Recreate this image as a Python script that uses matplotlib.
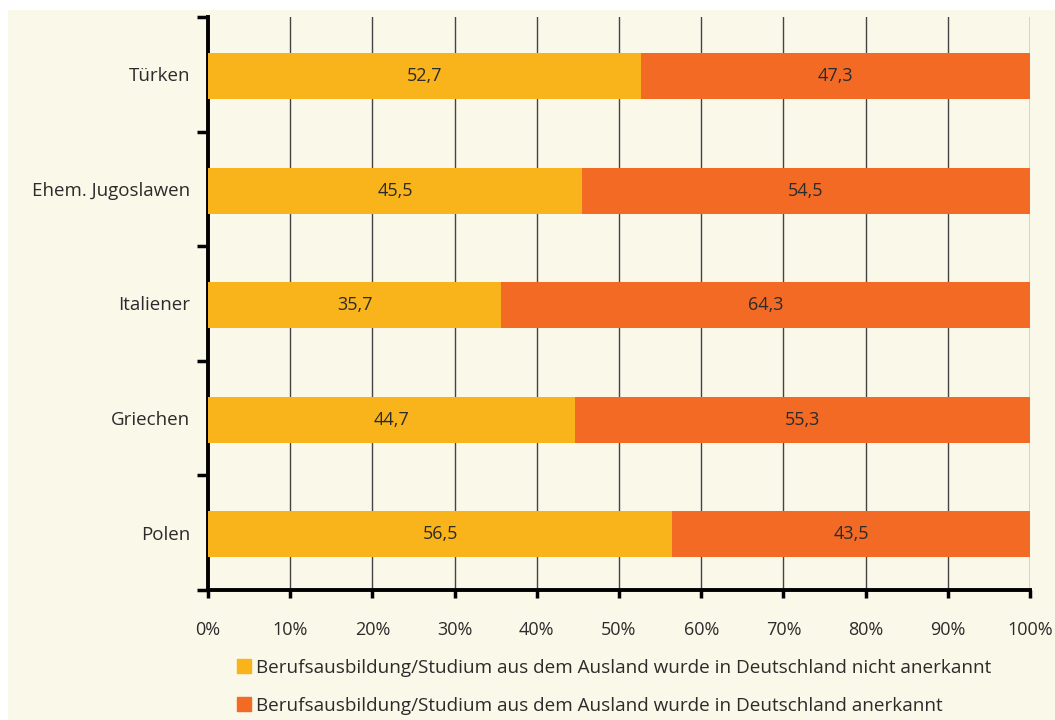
import matplotlib.pyplot as plt
import matplotlib.patches as mpatches
import numpy as np

plt.rcParams['font.family'] = ['Open Sans', 'DejaVu Sans']

groups = ["Türken", "Ehem. Jugoslawen", "Italiener", "Griechen", "Polen"]
nicht_anerkannt = [52.7, 45.5, 35.7, 44.7, 56.5]
anerkannt = [47.3, 54.5, 64.3, 55.3, 43.5]
legend_labels = [
    "Berufsausbildung/Studium aus dem Ausland wurde in Deutschland nicht anerkannt",
    "Berufsausbildung/Studium aus dem Ausland wurde in Deutschland anerkannt",
]

yellow = "#F8B41A"
orange = "#F26A24"
bg = "#FAF8E9"
textcol = "#2b2b2b"

fig = plt.figure(figsize=(10.55, 7.2), dpi=100)
fig.patch.set_facecolor(bg)
# white strips along the top and left edge
fig.patches.append(mpatches.Rectangle((0, 1 - 10 / 720), 1, 10 / 720,
                                      transform=fig.transFigure, facecolor="white",
                                      edgecolor="none", zorder=-10))
fig.patches.append(mpatches.Rectangle((0, 0), 8 / 1055, 1,
                                      transform=fig.transFigure, facecolor="white",
                                      edgecolor="none", zorder=-10))

ax = fig.add_axes([208 / 1055, 1 - 590 / 720, 822 / 1055, 573 / 720])
ax.set_facecolor(bg)

y = np.arange(len(groups)) + 0.015
h = 0.4
ax.barh(y, nicht_anerkannt, height=h, color=yellow, zorder=3)
ax.barh(y, anerkannt, left=nicht_anerkannt, height=h, color=orange, zorder=3)

for i in range(len(groups)):
    a = nicht_anerkannt[i]
    b = anerkannt[i]
    ax.text(a / 2, y[i], f"{a:.1f}".replace(".", ","), ha="center", va="center",
            fontsize=13, color=textcol, zorder=4)
    ax.text(a + b / 2, y[i], f"{b:.1f}".replace(".", ","), ha="center", va="center",
            fontsize=13, color=textcol, zorder=4)

ax.set_xlim(0, 100)
ax.set_ylim(len(groups) - 0.5, -0.5)

xt = np.arange(0, 101, 10)
ax.set_xticks(xt)
ax.set_xticklabels([f"{v}%" for v in xt], fontsize=13, color=textcol)
for v in xt[1:]:
    ax.axvline(v, color="#444444", lw=1.0, zorder=1)

# separator ticks between groups, labels at group centres
ax.set_yticks(np.arange(-0.5, len(groups), 1.0))
ax.set_yticklabels([])
ax.set_yticks(np.arange(len(groups)), minor=True)
ax.set_yticklabels(groups, minor=True, fontsize=13.5, color=textcol)
ax.tick_params(axis="y", which="minor", length=0, pad=13)
ax.tick_params(axis="y", which="major", length=8, width=2.5, color="black")
ax.tick_params(axis="x", length=6, width=2.5, color="black", pad=16)

for s in ["top", "right"]:
    ax.spines[s].set_visible(False)
ax.spines["left"].set_linewidth(2.8)
ax.spines["bottom"].set_linewidth(2.8)

handles = [mpatches.Patch(color=yellow), mpatches.Patch(color=orange)]
fig.legend(handles, legend_labels, loc="upper left",
           bbox_to_anchor=(220 / 1055, 1 - 642 / 720), frameon=False,
           fontsize=13.6, handlelength=0.75, handleheight=0.75, handletextpad=0.25,
           labelspacing=1.05, labelcolor=textcol)

plt.savefig("out.png", dpi=100, facecolor=fig.get_facecolor())
